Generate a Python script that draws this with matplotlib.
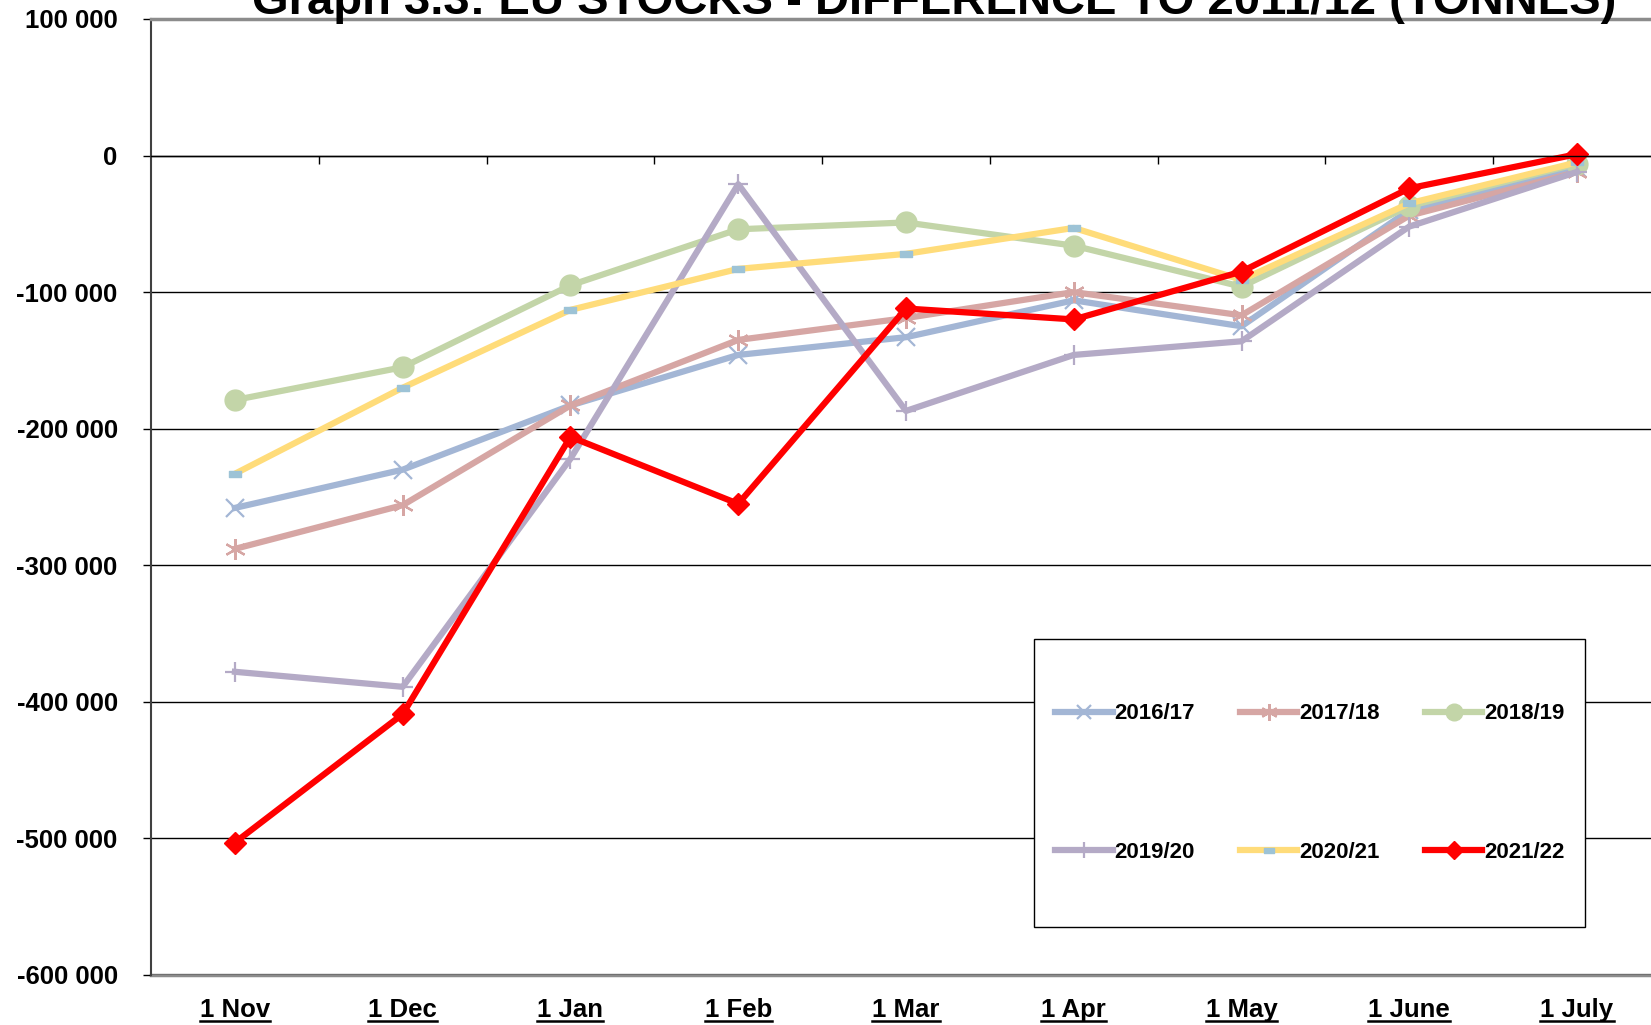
import matplotlib
matplotlib.use("Agg")
import matplotlib.pyplot as plt
from matplotlib.lines import Line2D
from matplotlib.patches import Rectangle
from matplotlib.path import Path
from matplotlib.transforms import IdentityTransform

plt.rcParams['font.family'] = ['Liberation Sans', 'DejaVu Sans']
plt.rcParams['font.weight'] = 'bold'

# data
months = ['1 Nov', '1 Dec', '1 Jan', '1 Feb', '1 Mar', '1 Apr', '1 May', '1 June', '1 July']
s2016_17 = [-258000, -230000, -183000, -146000, -133000, -106000, -125000, -40000, -9000]
s2017_18 = [-288000, -256000, -183000, -135000, -119000, -100000, -117000, -44000, -12000]
s2018_19 = [-179000, -155000, -95000, -54000, -49000, -66000, -96000, -37000, -6000]
s2019_20 = [-378000, -389000, -222000, -21000, -187000, -146000, -136000, -52000, -12000]
s2020_21 = [-233000, -170000, -113000, -83000, -72000, -53000, -91000, -35000, -5000]
s2021_22 = [-503000, -409000, -206000, -255000, -112000, -120000, -85000, -24000, 1000]
yticks = [100000, 0, -100000, -200000, -300000, -400000, -500000, -600000]

rect = Path([(-1, -0.5), (1, -0.5), (1, 0.5), (-1, 0.5), (-1, -0.5)],
            [Path.MOVETO, Path.LINETO, Path.LINETO, Path.LINETO, Path.CLOSEPOLY])

series = [
    ('2016/17', s2016_17, '#A3B6D5', dict(marker='x', ms=13, mew=1.6)),
    ('2017/18', s2017_18, '#D6A6A4', dict(marker=(6, 2, 0), ms=15, mew=1.6)),
    ('2018/19', s2018_19, '#C3D5A8', dict(marker='o', ms=15)),
    ('2019/20', s2019_20, '#B4AAC6', dict(marker='+', ms=15, mew=1.6)),
    ('2020/21', s2020_21, '#FFDC7A', dict(marker=rect, ms=9, mfc='#9DC3D6', mec='#9DC3D6')),
    ('2021/22', s2021_22, '#FF0000', dict(marker='D', ms=11)),
]

fig = plt.figure(figsize=(16.51, 10.25), dpi=100)
ax = fig.add_axes([0.0915, 0.0488, 0.9145, 0.9327])
x = list(range(len(months)))

handles = []
for name, vals, col, mk in series:
    h, = ax.plot(x, vals, color=col, lw=4.5, label=name, **mk)
    handles.append(h)

ax.set_xlim(-0.5, 8.5)
ax.set_ylim(-600000, 100000)
ax.set_yticks(yticks)
ax.set_yticklabels([f'{v:,}'.replace(',', ' ') if v != 0 else '0' for v in yticks])
ax.yaxis.grid(True, color='black', lw=1)
ax.tick_params(axis='y', direction='out', length=6, width=1, pad=18, labelsize=18.5)

ax.spines['right'].set_visible(False)
ax.spines['top'].set_color('#8C8C8C')
ax.spines['top'].set_linewidth(2.5)
ax.spines['left'].set_color('#404040')
ax.spines['left'].set_linewidth(1.5)
ax.spines['bottom'].set_position(('data', 0))
ax.spines['bottom'].set_linewidth(1)
ax.set_xticks([i + 0.5 for i in range(len(months) - 1)])
ax.set_xticklabels([])
ax.tick_params(axis='x', direction='out', length=6, width=1)
ax.axhline(-600000, color='#8C8C8C', lw=2.5, zorder=1, clip_on=False)

labels = []
for i, m in enumerate(months):
    t = ax.text(i, -0.044, m, transform=ax.get_xaxis_transform(), ha='center',
                va='baseline', fontsize=18.5, fontweight='bold')
    labels.append(t)

fig.suptitle('Graph 3.3: EU STOCKS - DIFFERENCE TO 2011/12 (TONNES)', x=0.566, y=0.9863,
             va='baseline', fontsize=34, fontweight='bold')

# legend box (row-major order like the original)
box = Rectangle((0.585, 0.05), 0.365, 0.301, transform=ax.transAxes, facecolor='white',
                edgecolor='black', lw=1, zorder=5)
ax.add_patch(box)
order = [0, 3, 1, 4, 2, 5]
leg = ax.legend([handles[i] for i in order], [series[i][0] for i in order],
                loc='center', bbox_to_anchor=(0.585 + 0.365 / 2, 0.05 + 0.301 / 2),
                ncol=3, fontsize=16, frameon=False, borderpad=0, labelspacing=5.3,
                handlelength=2.6, handletextpad=0.1, columnspacing=2.0, markerscale=0.8)
leg.set_zorder(6)
for t in leg.get_texts():
    t.set_fontweight('bold')

fig.canvas.draw()
r = fig.canvas.get_renderer()
for t in labels:
    bb = t.get_window_extent(r)
    fig.add_artist(Line2D([bb.x0, bb.x1], [bb.y0 + 1, bb.y0 + 1], transform=IdentityTransform(),
                          color='black', lw=1.8))

fig.savefig('out.png', dpi=100)
